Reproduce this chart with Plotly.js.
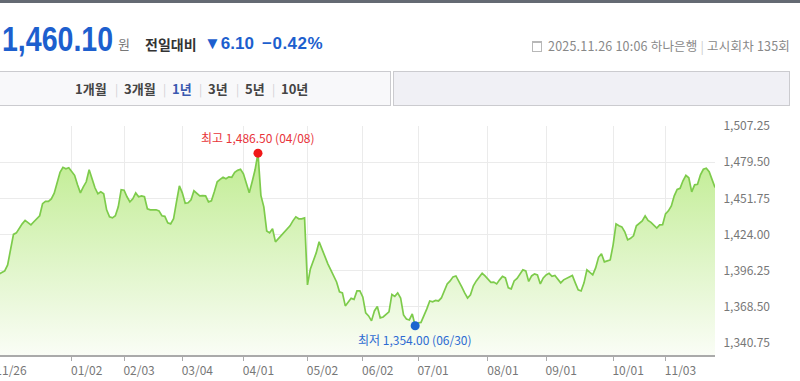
<!DOCTYPE html>
<html>
<head>
<meta charset="utf-8">
<script src="https://cdn.plot.ly/plotly-3.0.1.min.js"></script>
<style>
  html, body { margin:0; padding:0; background:#fff; }
  body { width:800px; height:381px; overflow:hidden; position:relative; font-family:"Noto Sans CJK KR","Noto Sans",sans-serif; }
  .abs { position:absolute; white-space:nowrap; }
  .btn { position:absolute; top:80px; line-height:18px; font-size:13px; font-weight:700; color:#444; }
  .sep { position:absolute; top:81px; line-height:16px; font-size:12px; color:#d0d0d4; }
</style>
</head>
<body>
<div class="abs" style="left:0;top:0;width:800px;height:3px;background:#646a73"></div>

<div class="abs" id="price" style="left:2px;top:19px;line-height:40px;font-family:'Liberation Sans',sans-serif;font-size:35px;font-weight:700;color:#1d5fce;transform:scaleX(0.815);transform-origin:0 0;"></div>
<div class="abs" style="left:118px;top:36px;line-height:16px;font-size:13px;color:#777;">원</div>
<div class="abs" style="left:145px;top:35px;line-height:18px;font-size:14px;font-weight:700;color:#333;">전일대비</div>
<div class="abs" id="chg" style="left:204px;top:34px;line-height:20px;font-family:'Liberation Sans',sans-serif;font-size:17px;font-weight:700;color:#1d5fce;"></div>
<div class="abs" id="pct" style="left:262px;top:34px;line-height:20px;font-family:'Liberation Sans',sans-serif;font-size:17px;font-weight:700;color:#1d5fce;letter-spacing:0.5px;"></div>

<div class="abs" style="left:532px;top:41px;width:10px;height:11px;border:1px solid #b8b8b8;border-top:2px solid #b8b8b8;box-sizing:border-box;"></div>
<div class="abs" style="right:10px;top:37px;line-height:18px;font-size:12.5px;color:#888;letter-spacing:0.2px;">2025.11.26 10:06 하나은행 <span style="color:#ccc">|</span> 고시회차 135회</div>

<div class="abs" style="left:-1px;top:71px;width:392px;height:35px;border:1px solid #cbcbcf;box-sizing:border-box;background:#f8f8fa;"></div>
<div class="abs" style="left:393px;top:71px;width:397px;height:35px;border:1px solid #cbcbcf;box-sizing:border-box;background:#f0f0f5;"></div>
<div id="btns"></div>

<div id="chart" style="position:absolute;left:-4px;top:111px;width:804px;height:270px;"></div>

<script>
// ---- data ----
const currentRate = 1460.10;
const prevDiff = 6.10;
const prevPct = -0.42;

const tickDates = ['11/26','01/02','02/03','03/04','04/01','05/02','06/02','07/01','08/01','09/01','10/01','11/03'];
const tickIndex = [0, 26, 44, 64, 85, 107, 126, 145, 169, 189, 212, 230];

const rates = [
 1392.3,1393.4,1394.9,1396.1,1400.7,1413.8,1424.1,1425.3,1429.1,1432.2,
 1434.9,1433.0,1431.4,1433.8,1436.4,1438.4,1447.7,1449.5,1449.5,1451.4,
 1455.7,1463.0,1471.8,1475.6,1474.5,1475.3,1472.2,1469.5,1462.2,1456.0,
 1460.6,1464.5,1473.7,1466.8,1459.9,1455.3,1456.8,1455.3,1443.0,1437.6,
 1436.8,1438.4,1445.3,1458.4,1458.0,1453.0,1449.1,1451.4,1456.0,1453.0,
 1453.7,1453.0,1443.8,1443.0,1443.2,1443.0,1442.2,1438.4,1438.0,1433.0,
 1432.2,1436.1,1449.1,1461.4,1456.0,1448.0,1448.4,1450.7,1457.6,1456.0,
 1453.7,1453.9,1453.7,1449.1,1449.9,1456.8,1464.5,1466.4,1468.0,1466.8,
 1468.3,1468.0,1471.8,1473.3,1474.1,1470.6,1463.0,1456.0,1464.5,1473.7,
 1486.5,1454.1,1445.3,1426.8,1425.3,1428.4,1418.4,1420.7,1423.0,1426.1,
 1428.4,1430.7,1434.5,1437.6,1436.1,1436.1,1436.8,1385.3,1397.6,1403.0,
 1409.9,1418.4,1413.0,1406.1,1401.5,1396.9,1392.3,1387.6,1380.0,1379.2,
 1369.2,1372.6,1375.0,1374.2,1380.7,1380.7,1376.1,1363.8,1361.5,1357.7,
 1365.3,1368.8,1360.0,1360.7,1363.0,1364.6,1378.0,1376.5,1379.2,1375.3,
 1362.3,1359.2,1358.4,1363.0,1354.0,1356.1,1356.5,1361.5,1366.9,1373.0,
 1372.3,1373.4,1373.0,1375.3,1381.5,1386.1,1388.4,1391.5,1392.2,1388.4,
 1383.8,1379.2,1375.3,1377.7,1384.6,1388.4,1391.5,1394.2,1392.2,1389.9,
 1387.3,1387.5,1386.1,1389.2,1391.9,1390.7,1383.0,1382.3,1388.4,1390.3,
 1393.4,1396.9,1396.1,1388.0,1392.2,1393.8,1393.0,1386.1,1390.7,1393.0,
 1394.2,1391.9,1392.6,1389.9,1386.9,1389.2,1390.3,1391.1,1392.6,1386.9,
 1381.5,1380.7,1386.9,1396.9,1394.6,1393.0,1398.4,1406.5,1409.2,1403.0,
 1403.8,1404.5,1416.1,1432.2,1430.7,1429.9,1426.1,1419.9,1421.1,1423.0,
 1430.7,1432.6,1434.5,1438.4,1434.9,1433.4,1431.4,1429.0,1431.4,1431.6,
 1439.9,1442.2,1446.0,1453.7,1458.7,1459.5,1465.3,1469.5,1467.6,1456.8,
 1462.2,1462.6,1469.9,1474.1,1474.9,1472.2,1466.2,1460.1
];

const yTicks = [1340.75, 1368.50, 1396.25, 1424.00, 1451.75, 1479.50, 1507.25];

const hiIdx = 90, hiVal = 1486.50, hiDate = '04/08';
const loIdx = 144, loVal = 1354.00, loDate = '06/30';

const periodButtons = ['1개월','3개월','1년','3년','5년','10년'];
const activeButton = '1년';

// ---- header ----
const fmt = v => v.toLocaleString('en-US', {minimumFractionDigits:2, maximumFractionDigits:2});
document.getElementById('price').textContent = fmt(currentRate);
document.getElementById('chg').textContent = '▼' + prevDiff.toFixed(2);
document.getElementById('pct').textContent = '−' + Math.abs(prevPct).toFixed(2) + '%';

const btnLeft = [75, 124, 172, 208, 245, 281];
const sepLeft = [115, 163, 199, 236, 272];
const btns = document.getElementById('btns');
periodButtons.forEach((b, k) => {
  const d = document.createElement('div');
  d.className = 'btn';
  d.style.left = btnLeft[k] + 'px';
  if (b === activeButton) d.style.color = '#3a59b0';
  d.textContent = b;
  btns.appendChild(d);
  if (k < sepLeft.length) {
    const s = document.createElement('div');
    s.className = 'sep';
    s.style.left = sepLeft[k] + 'px';
    s.textContent = '|';
    btns.appendChild(s);
  }
});

// ---- chart ----
const idx = rates.map((_, i) => i);
const FONT = '"Noto Sans CJK KR", "Noto Sans", sans-serif';

const traces = [
  {
    x: idx, y: rates, type: 'scatter', mode: 'lines',
    line: {color: '#7dcb4b', width: 1.7},
    fill: 'tozeroy',
    fillgradient: {type: 'vertical', start: 1331.5, stop: 1490,
      colorscale: [[0, '#fafdf6'], [1, '#bfec90']]},
    hoverinfo: 'skip'
  },
  {
    x: [hiIdx], y: [hiVal], type: 'scatter', mode: 'markers',
    marker: {size: 9, color: '#f01818'}, cliponaxis: false, hoverinfo: 'skip'
  },
  {
    x: [loIdx], y: [loVal], type: 'scatter', mode: 'markers',
    marker: {size: 9, color: '#1b66cf'}, cliponaxis: false, hoverinfo: 'skip'
  }
];

const layout = {
  width: 804, height: 270,
  margin: {l: 0, r: 85, t: 15, b: 26},
  paper_bgcolor: 'rgba(0,0,0,0)', plot_bgcolor: '#fff',
  showlegend: false,
  font: {family: FONT, size: 12, color: '#777'},
  xaxis: {
    type: 'linear', range: [0, rates.length - 1],
    tickmode: 'array', tickvals: tickIndex, ticktext: tickDates,
    ticks: 'outside', ticklen: 4, tickcolor: '#aaa', tickwidth: 1,
    showline: true, linecolor: '#aaa', linewidth: 2,
    showgrid: true, gridcolor: '#ebebeb', gridwidth: 1,
    zeroline: false, fixedrange: true,
    ticklabelshift: 15, ticklabeloverflow: 'allow',
    tickfont: {family: FONT, size: 12, color: '#777'}
  },
  yaxis: {
    side: 'right', range: [1331.5, 1507.35],
    tickmode: 'array', tickvals: yTicks, ticktext: yTicks.map(fmt),
    ticks: 'outside', ticklen: 5, tickcolor: 'rgba(0,0,0,0)',
    showline: false, showgrid: true, gridcolor: '#ebebeb', gridwidth: 1,
    zeroline: false, fixedrange: true,
    tickfont: {family: FONT, size: 12, color: '#777'}
  },
  annotations: [
    {x: hiIdx, y: hiVal, xref: 'x', yref: 'y', showarrow: false, yshift: 16,
     text: '최고 ' + fmt(hiVal) + ' (' + hiDate + ')',
     font: {family: FONT, size: 12, color: '#e8343a'}},
    {x: loIdx, y: loVal, xref: 'x', yref: 'y', showarrow: false, yshift: -14,
     text: '최저 ' + fmt(loVal) + ' (' + loDate + ')',
     font: {family: FONT, size: 12, color: '#2d6bd2'}}
  ]
};

Plotly.newPlot('chart', traces, layout, {displayModeBar: false, staticPlot: true});
</script>
</body>
</html>
